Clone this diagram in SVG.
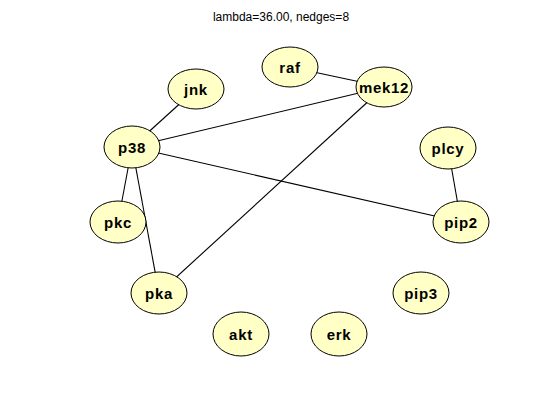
<svg xmlns="http://www.w3.org/2000/svg" width="560" height="420" viewBox="0 0 560 420">
<style>
.n ellipse{fill:#FFFFC6;stroke:#000;stroke-width:1}
.n text{font-family:"Liberation Sans",Arial,sans-serif;font-weight:bold;font-size:15px;letter-spacing:0.7px;text-anchor:middle;fill:#000}
.e line{stroke:#000;stroke-width:1.1}
.t{font-family:"Liberation Sans",Arial,sans-serif;font-size:12px;text-anchor:middle;fill:#000}
</style>
<rect width="560" height="420" fill="#fff"/>
<text class="t" x="281" y="21">lambda=36.00, nedges=8</text>
<g id="connectors" class="e">
<line x1="290" y1="67" x2="384" y2="87"/>
<line x1="384" y1="87" x2="132" y2="147"/>
<line x1="384" y1="87" x2="159" y2="293"/>
<line x1="132" y1="147" x2="196" y2="89"/>
<line x1="132" y1="147" x2="118" y2="222"/>
<line x1="132" y1="147" x2="159" y2="293"/>
<line x1="132" y1="147" x2="461" y2="222"/>
<line x1="448" y1="148" x2="461" y2="222"/>
</g>
<g id="raf" class="n"><ellipse cx="290" cy="67" rx="28" ry="20"/><text x="290" y="72.5">raf</text></g>
<g id="mek12" class="n"><ellipse cx="384" cy="87" rx="28" ry="20"/><text x="384" y="92.5">mek12</text></g>
<g id="jnk" class="n"><ellipse cx="196" cy="89" rx="28" ry="20"/><text x="196" y="94.5">jnk</text></g>
<g id="p38" class="n"><ellipse cx="132" cy="147" rx="28" ry="21"/><text x="132" y="152.5">p38</text></g>
<g id="plcy" class="n"><ellipse cx="448" cy="148" rx="28" ry="21"/><text x="448" y="153.5">plcy</text></g>
<g id="pkc" class="n"><ellipse cx="118" cy="222" rx="28" ry="21"/><text x="118" y="227.5">pkc</text></g>
<g id="pip2" class="n"><ellipse cx="461" cy="222" rx="28" ry="21"/><text x="461" y="227.5">pip2</text></g>
<g id="pka" class="n"><ellipse cx="159" cy="293" rx="28" ry="21"/><text x="159" y="298.5">pka</text></g>
<g id="pip3" class="n"><ellipse cx="421" cy="293" rx="28" ry="21"/><text x="421" y="298.5">pip3</text></g>
<g id="akt" class="n"><ellipse cx="241" cy="334" rx="28" ry="22"/><text x="241" y="339.5">akt</text></g>
<g id="erk" class="n"><ellipse cx="339" cy="334" rx="28" ry="22"/><text x="339" y="339.5">erk</text></g>
</svg>
